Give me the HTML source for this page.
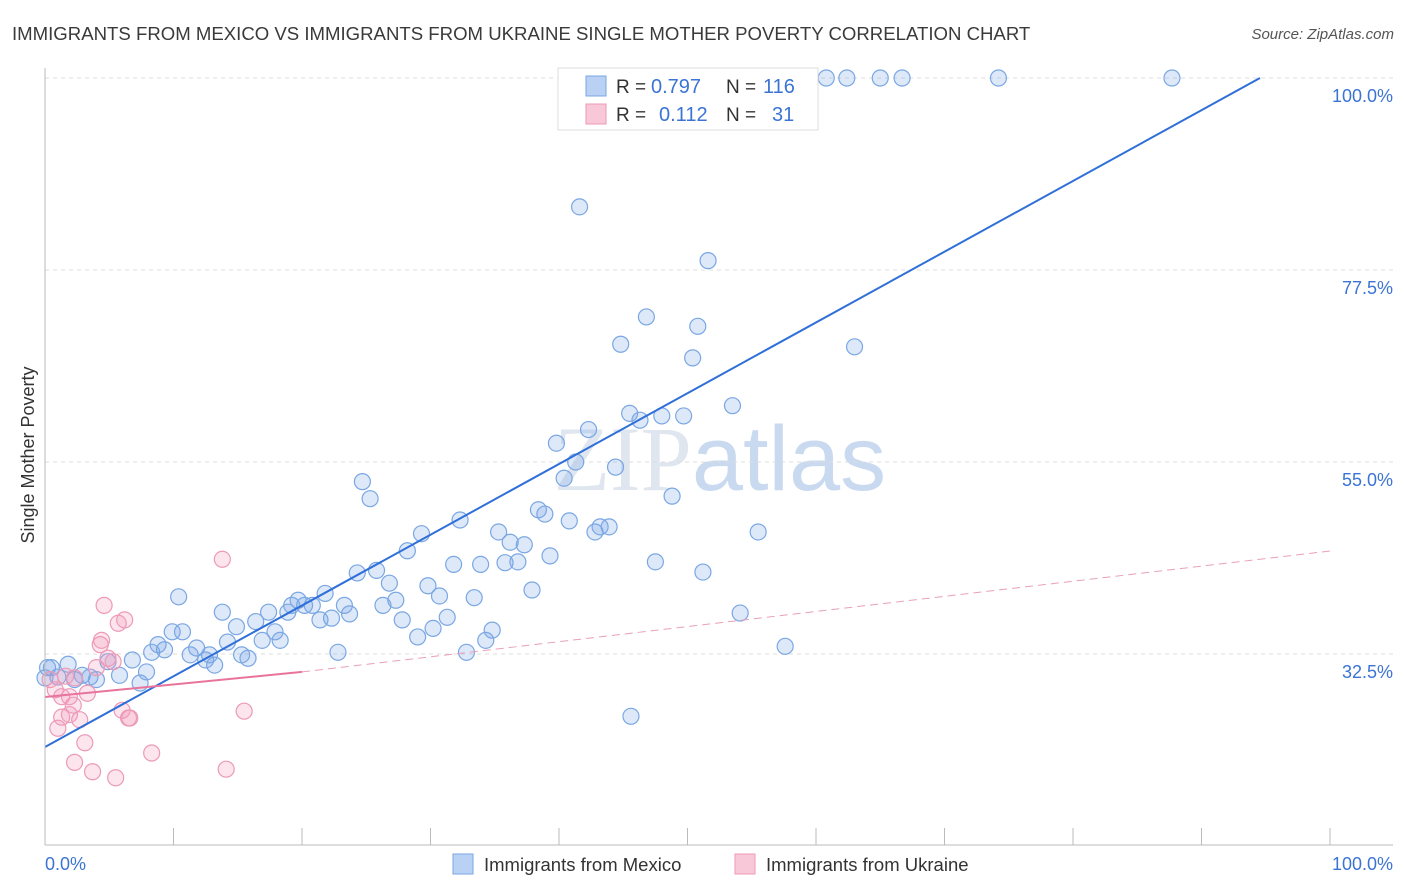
<!DOCTYPE html>
<html><head><meta charset="utf-8"><style>
body{margin:0;background:#fff;font-family:"Liberation Sans",sans-serif}
svg{display:block}
</style></head><body>
<svg id="c" width="1406" height="892" xmlns="http://www.w3.org/2000/svg">
<text x="12" y="40" font-size="18.6" fill="#3a3a3a">IMMIGRANTS FROM MEXICO VS IMMIGRANTS FROM UKRAINE SINGLE MOTHER POVERTY CORRELATION CHART</text>
<text x="1394" y="39" font-size="15" fill="#555" text-anchor="end" font-style="italic">Source: ZipAtlas.com</text>
<text x="720" y="490" font-size="92" fill="#dfe6ef" text-anchor="middle" font-family="Liberation Serif,serif">ZIP<tspan fill="#c9daf0" font-family="Liberation Sans,sans-serif">atlas</tspan></text>
<text transform="translate(34,455) rotate(-90)" font-size="18" fill="#333" text-anchor="middle">Single Mother Poverty</text>
<g id="grid"></g><g id="marks"></g>
<line x1="45" y1="68" x2="45" y2="845" stroke="#bbb"/>
<line x1="45" y1="845" x2="1393" y2="845" stroke="#bbb"/>
<text x="45" y="870" font-size="18" fill="#3b74d4">0.0%</text>
<text x="1393" y="870" font-size="18" fill="#3b74d4" text-anchor="end">100.0%</text>
<g>
<rect x="558" y="68" width="260" height="62" fill="#fff" stroke="#ddd"/>
<rect x="586" y="76" width="20" height="20" fill="#b9d2f4" stroke="#7aa7e3"/>
<rect x="586" y="104" width="20" height="20" fill="#f8c8d8" stroke="#ec9ab8"/>
<text y="93" font-size="19" fill="#333"><tspan x="616">R =</tspan><tspan x="651" fill="#3b74d4" font-size="20">0.797</tspan><tspan x="726">N =</tspan><tspan x="763" fill="#3b74d4" font-size="20">116</tspan></text>
<text y="121" font-size="19" fill="#333"><tspan x="616">R =</tspan><tspan x="659" fill="#3b74d4" font-size="20">0.112</tspan><tspan x="726">N =</tspan><tspan x="772" fill="#3b74d4" font-size="20">31</tspan></text>
</g>
<g>
<rect x="453" y="854" width="20" height="20" fill="#b9d2f4" stroke="#7aa7e3"/>
<text x="484" y="871" font-size="18.5" fill="#333">Immigrants from Mexico</text>
<rect x="735" y="854" width="20" height="20" fill="#f8c8d8" stroke="#ec9ab8"/>
<text x="766" y="871" font-size="18.5" fill="#333">Immigrants from Ukraine</text>
</g>
</svg>
<script>
const yTicks=[32.5,55,77.5,100];
const yTickLabels=["32.5%","55.0%","77.5%","100.0%"];
const xTicks=[0,10,20,30,40,50,60,70,80,90,100];
const mexicoX=[0.5,1.0,1.8,2.3,2.9,3.5,4.0,4.9,5.8,6.8,7.4,7.9,8.3,8.8,9.3,9.9,10.4,10.7,11.3,11.8,12.5,12.8,13.2,13.8,14.2,14.9,15.3,15.8,16.4,16.9,17.4,17.9,18.3,18.9,19.2,19.7,20.2,20.8,21.4,21.8,22.3,22.8,23.3,23.7,24.3,24.7,25.3,25.8,26.3,26.8,27.3,27.8,28.2,29.0,29.3,29.8,30.2,30.7,31.3,31.8,32.3,32.8,33.4,33.9,34.3,34.8,35.3,35.8,36.2,36.8,37.3,37.9,38.4,38.9,39.3,39.8,40.4,40.8,41.3,41.6,42.3,42.8,43.2,43.9,44.4,44.8,45.5,45.6,46.3,46.8,47.5,48.0,48.8,49.7,50.4,50.8,51.2,51.6,53.5,54.1,54.5,55.5,56.3,57.6,60.8,62.4,63.0,65.0,66.7,74.2,87.7,0.2,0];
const mexicoY=[30.9,29.8,31.3,29.5,30.0,29.8,29.5,31.6,30.0,31.8,29.1,30.4,32.7,33.6,33.0,35.1,39.2,35.1,32.4,33.2,31.8,32.4,31.2,37.4,33.9,35.7,32.4,32.0,36.3,34.1,37.4,35.1,34.1,37.4,38.2,38.8,38.2,38.2,36.5,39.6,36.7,32.7,38.2,37.2,42.0,52.7,50.7,42.3,38.2,40.8,38.8,36.5,44.6,34.5,46.6,40.5,35.5,39.3,36.8,43.0,48.2,32.7,39.1,43.0,34.1,35.3,46.8,43.2,45.6,43.3,45.3,40.0,49.4,48.9,44.0,57.2,53.1,48.1,55.0,84.9,58.8,46.8,47.4,47.4,54.4,68.8,60.7,25.2,59.9,72.0,43.3,60.4,51.0,60.4,67.2,70.9,42.1,78.6,61.6,37.3,100,46.8,100,33.4,100,100,68.5,100,100,100,100,30.9,29.7];
const ukraineX=[0.4,0.8,1.0,1.3,1.6,1.3,1.9,1.9,2.2,2.3,2.7,3.1,3.3,3.7,4.0,4.3,4.4,4.6,4.9,5.3,5.5,5.7,6.0,6.2,6.5,6.6,8.3,13.8,14.1,15.5,2.3];
const ukraineY=[29.5,28.3,23.8,27.5,29.9,25.1,25.4,27.5,26.5,29.7,24.8,22.1,27.9,18.7,30.9,33.6,34.1,38.2,32.0,31.6,18.0,36.1,25.9,36.5,25.0,25.0,20.9,43.6,19.0,25.8,19.8];
const mexicoTrend=[0,21.6,94.55,100];
const ukraineTrend=[0,27.46,20,30.4,100,44.57];
const NS="http://www.w3.org/2000/svg";
const X=v=>45+v*12.85, Y=v=>654-(v-32.5)*192/22.5;
function mk(t,a,p){const e=document.createElementNS(NS,t);for(const k in a)e.setAttribute(k,a[k]);p.appendChild(e);return e;}
const grid=document.getElementById('grid'), marks=document.getElementById('marks');
yTicks.forEach((t,i)=>{
 const l=mk('line',{x1:45,x2:1393,y1:Y(t),y2:Y(t),stroke:'#ddd','stroke-dasharray':'4 4'},grid);
 
 
 const tx=mk('text',{x:1393,y:Y(t)+24,'font-size':18,fill:'#3b74d4','text-anchor':'end'},grid);
 tx.textContent=yTickLabels[i];
 
 
});
xTicks.forEach(t=>{
 const l=mk('line',{x1:X(t),x2:X(t),y1:828,y2:845,stroke:'#bbb'},grid);
 
 
});
mexicoX.forEach((x,i)=>{
 const c=mk('circle',{cx:X(x),cy:Y(mexicoY[i]),r:8,fill:'rgba(120,165,232,0.25)',stroke:'#7aa7e3','stroke-width':1.2},marks);
 
 
});
ukraineX.forEach((x,i)=>{
 const c=mk('circle',{cx:X(x),cy:Y(ukraineY[i]),r:8,fill:'rgba(242,150,182,0.25)',stroke:'#ec9ab8','stroke-width':1.2},marks);
 
 
});
const bl=mk('line',{x1:X(mexicoTrend[0]),y1:Y(mexicoTrend[1]),x2:X(mexicoTrend[2]),y2:Y(mexicoTrend[3]),stroke:'#2f6fd8','stroke-width':2},marks);


const pl=mk('line',{x1:X(ukraineTrend[0]),y1:Y(ukraineTrend[1]),x2:X(ukraineTrend[2]),y2:Y(ukraineTrend[3]),stroke:'#e8739c','stroke-width':2},marks);


const pd=mk('line',{x1:X(ukraineTrend[2]),y1:Y(ukraineTrend[3]),x2:X(ukraineTrend[4]),y2:Y(ukraineTrend[5]),stroke:'#e8a0b8','stroke-width':1,'stroke-dasharray':'8 5'},marks);


</script>
</body></html>
